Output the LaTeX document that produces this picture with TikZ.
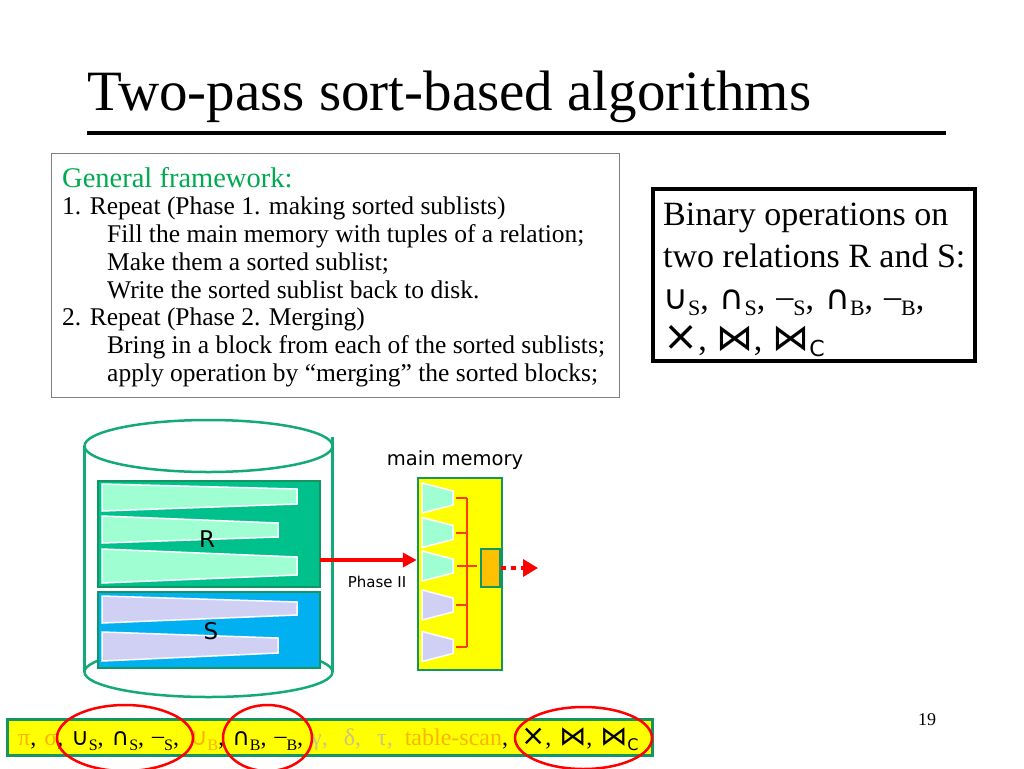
\documentclass[tikz,border=0pt]{standalone}
\usepackage{fontspec}
\setmainfont{Liberation Serif}
\newfontfamily\symfont{DejaVu Sans}
\usetikzlibrary{arrows.meta}

\definecolor{diskline}{RGB}{20,170,120}
\definecolor{blockline}{RGB}{20,150,100}
\definecolor{rfill}{RGB}{0,192,140}
\definecolor{sfill}{RGB}{0,176,240}
\definecolor{sortgreen}{RGB}{160,255,210}
\definecolor{sortblue}{RGB}{208,208,245}
\definecolor{memyellow}{RGB}{255,255,0}
\definecolor{bufferorange}{RGB}{255,192,0}
\definecolor{mergered}{RGB}{255,60,0}
\definecolor{fwgreen}{RGB}{0,170,80}
\definecolor{fadeorange}{RGB}{250,180,0}
\definecolor{fadegray}{RGB}{205,195,130}

\newcommand{\binsub}[1]{\raisebox{-6pt}{\fontsize{22}{22}\selectfont #1}}
\newcommand{\barsub}[1]{\raisebox{-5pt}{\fontsize{16}{16}\selectfont #1}}
\newcommand{\binsym}[2]{{\symfont\fontsize{#1}{#1}\selectfont #2}}
\newcommand{\barsym}[2]{{\symfont\fontsize{#1}{#1}\selectfont #2}}

\begin{document}
\begin{tikzpicture}[
  x = 1pt,
  y = -1pt,
  disk/.style = {
    draw = diskline,
    line width = 2.5pt
  },
  relblock/.style = {
    draw = blockline,
    line width = 2pt,
    inner sep = 0pt,
    minimum width = 222pt
  },
  strip/.style = {
    draw = white,
    line width = 1.5pt
  },
  rellabel/.style = {
    font = \symfont\fontsize{23}{23}\selectfont
  },
  memory/.style = {
    draw = blockline,
    line width = 2.5pt,
    fill = memyellow,
    inner sep = 0pt,
    minimum width = 84pt,
    minimum height = 192pt
  },
  buffer/.style = {
    draw = blockline,
    line width = 2.5pt,
    fill = bufferorange,
    inner sep = 0pt,
    minimum width = 19pt,
    minimum height = 38pt
  },
  merge/.style = {
    draw = mergered,
    line width = 2.5pt
  },
  flow/.style = {
    draw = red,
    line width = 3.5pt,
    -{Triangle[length = 14pt, width = 14pt]}
  },
  pick/.style = {
    draw = red,
    line width = 2.5pt
  }
]
  \useasboundingbox (0,0) rectangle (1024,768);

  % title
  \node[anchor = base west, inner sep = 0pt, font = \fontsize{57}{57}\selectfont] (title) at (87,110) {Two-pass sort-based algorithms};
  \draw[line width = 4pt] (87,133) -- (946,133);

  % framework text
  \node[draw = gray, line width = 1pt, minimum width = 568pt, minimum height = 244pt] (fwframe) at (335,275) {};
  \node[anchor = north west, inner sep = 0pt, align = left, font = \fontsize{25.5}{27.7}\selectfont] (fw) at (62,167) {%
    {\color{fwgreen}\fontsize{28.5}{27.7}\selectfont General framework:}\\
    1. Repeat (Phase 1. making sorted sublists)\\
    \hspace*{45pt}Fill the main memory with tuples of a relation;\\
    \hspace*{45pt}Make them a sorted sublist;\\
    \hspace*{45pt}Write the sorted sublist back to disk.\\
    2. Repeat (Phase 2. Merging)\\
    \hspace*{45pt}Bring in a block from each of the sorted sublists;\\
    \hspace*{45pt}apply operation by “merging” the sorted blocks;};

  % binary operations
  \node[draw, line width = 4pt, minimum width = 322pt, minimum height = 172pt] (binframe) at (814,275) {};
  \node[anchor = north west, inner sep = 0pt, align = left, font = \fontsize{34}{41.7}\selectfont] (bin) at (663,203) {%
    Binary operations on\\
    two relations R and S:\\
    {\spaceskip=11pt {\symfont ∪}\binsub{S}, {\symfont ∩}\binsub{S}, \raisebox{2pt}{–}\binsub{S}, {\symfont ∩}\binsub{B}, \raisebox{2pt}{–}\binsub{B},}\\
    {\spaceskip=10pt \binsym{42}{×}, \binsym{37}{⋈}, \binsym{37}{⋈}{\symfont\binsub{C}}}};

  % disk
  \draw[disk] (208.5,446) ellipse [x radius = 124, y radius = 26];
  \draw[disk] (208.5,672) ellipse [x radius = 124, y radius = 25];
  \draw[disk] (84.5,446) -- (84.5,672);
  \draw[disk] (332.5,437) -- (332.5,672);

  \node[relblock, fill = rfill, minimum height = 106pt] (rblk) at (209,534) {};
  \node[relblock, fill = sfill, minimum height = 76pt] (sblk) at (209,630) {};

  \foreach \yt/\yb/\xr/\ytr/\ybr/\col in {484/511/297/489/504/sortgreen,
      516/543/278/523/537/sortgreen, 549/583/297/557/575/sortgreen,
      596/623/297/602/615/sortblue, 632/661/278/638/653/sortblue}
    \filldraw[strip, fill = \col] (102,\yt) -- (\xr,\ytr) -- (\xr,\ybr) -- (102,\yb) -- cycle;

  \node[rellabel, anchor = base] (rname) at (207,547) {R};
  \node[rellabel, anchor = base] (sname) at (211,639) {S};

  % main memory
  \node[memory] (mem) at (460,574) {};
  \node[anchor = base, font = \symfont\fontsize{19.5}{19.5}\selectfont] (memname) at (455,465) {main memory};

  \foreach \c/\col in {498/sortgreen, 532.5/sortgreen, 566/sortgreen, 605/sortblue, 646.5/sortblue}
    \filldraw[strip, fill = \col] (422,{\c-15}) -- (453,{\c-7}) -- (453,{\c+7}) -- (422,{\c+15}) -- cycle;

  \draw[merge] (467,498) -- (467,647);
  \foreach \c in {498, 533, 605, 647}
    \draw[merge] (456,\c) -- (467,\c);
  \draw[merge] (457,566) -- (477,566);

  \node[buffer] (buf) at (490.5,568) {};

  \coordinate (phasein) at (320,560);
  \draw[flow] (phasein) -- (mem.west |- phasein);
  \node[font = \symfont\fontsize{15}{15}\selectfont] (phase) at (377,582) {Phase II};

  \coordinate (outend) at (538,568);
  \draw[flow, dash pattern = on 5pt off 5pt, -{Triangle[length = 15pt, width = 17pt]}] (buf.east) -- (outend);

  % operations bar
  \node[draw = blockline, line width = 3pt, fill = memyellow, minimum width = 645pt, minimum height = 36pt, inner sep = 0pt] (bar) at (329.5,737) {};
  \node[anchor = base west, inner sep = 0pt, font = \fontsize{24}{24}\selectfont] (ops) at (18,745) {%
    \spaceskip=8pt
    {\color{fadeorange}π}, {\color{fadeorange}σ}, {\symfont ∪}\barsub{S}, {\symfont ∩}\barsub{S}, \raisebox{2pt}{–}\barsub{S},\hspace{3pt}
    {\color{fadeorange}{\symfont ∪}\barsub{B}}, {\symfont ∩}\barsub{B}, \raisebox{2pt}{–}\barsub{B},
    {\color{fadegray}γ,\ \ δ,\ \ τ,}\hspace{4pt} {\color{fadeorange}table-scan},\hspace{5pt} \barsym{29}{×}, \barsym{27}{⋈}, \barsym{27}{⋈}{\symfont\barsub{C}}};

  \draw[pick] (125,738) ellipse [x radius = 68, y radius = 33];
  \draw[pick] (267.5,738) ellipse [x radius = 44.5, y radius = 33];
  \draw[pick] (583.5,738) ellipse [x radius = 68.5, y radius = 31];

  \node[anchor = base, font = \fontsize{18}{18}\selectfont] (page) at (927,725) {19};
\end{tikzpicture}
\end{document}
